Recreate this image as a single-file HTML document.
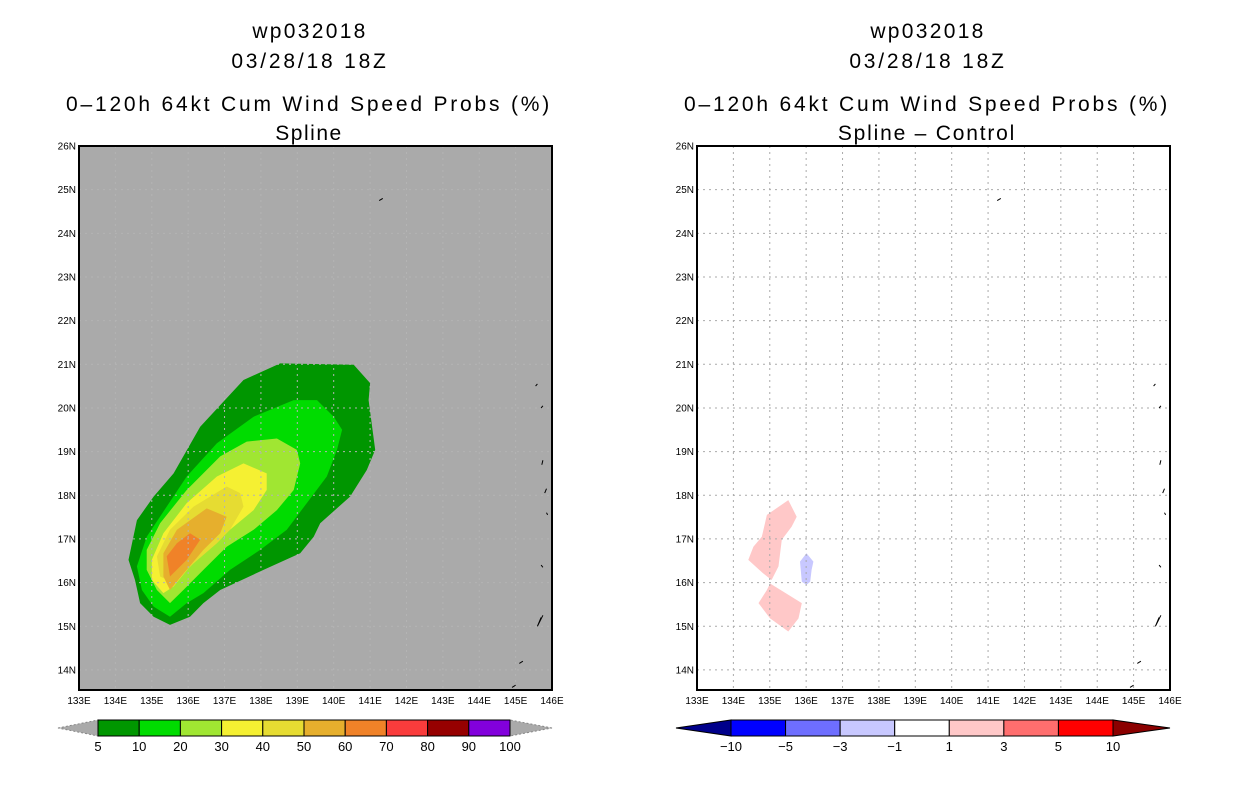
<!DOCTYPE html>
<html><head><meta charset="utf-8">
<style>
body{margin:0;background:#fff;width:1236px;height:800px;overflow:hidden}
svg{display:block}
text{font-family:"Liberation Sans",sans-serif}
.t{font-size:21px;letter-spacing:2.8px}
.tk{font-size:10px}
.cb{font-size:13px}
</style></head>
<body>
<svg id="s" width="1236" height="800" xmlns="http://www.w3.org/2000/svg">
<g text-anchor="middle">
<text class="t" x="310" y="38" style="letter-spacing:2.3px">wp032018</text>
<text class="t" x="310" y="68">03/28/18 18Z</text>
<text class="t" x="309" y="111">0–120h 64kt Cum Wind Speed Probs (%)</text>
<text class="t" x="309" y="140" style="letter-spacing:1.5px">Spline</text>
</g>
<g text-anchor="middle">
<text class="t" x="928" y="38" style="letter-spacing:2.3px">wp032018</text>
<text class="t" x="928" y="68">03/28/18 18Z</text>
<text class="t" x="927" y="111">0–120h 64kt Cum Wind Speed Probs (%)</text>
<text class="t" x="927" y="140" style="letter-spacing:1.8px">Spline – Control</text>
</g>
</svg>
<script>
const lonTicks=[133,134,135,136,137,138,139,140,141,142,143,144,145,146];
const latTicks=[14,15,16,17,18,19,20,21,22,23,24,25,26];
const probLevels=[5,10,20,30,40,50,60,70,80,90,100];
const probColors=["#009600","#00dc00","#a0e632","#f5f032","#e6dc32","#e6af2d","#f08228","#fa3c3c","#960000","#8200dc"];
const diffLabels=[-10,-5,-3,-1,1,3,5,10];
const diffColors=["#0000ff","#6e6eff","#c8c8ff","#ffffff","#ffc8c8","#ff6e6e","#ff0000"];
const c5=[[138.53,21.02],[140.55,20.99],[141.0,20.57],[140.96,20.18],[141.14,19.04],[140.91,18.58],[140.45,17.97],[139.63,17.36],[139.45,17.05],[139.08,16.67],[138.07,16.29],[136.88,15.83],[136.42,15.53],[136.05,15.22],[135.5,15.03],[135.05,15.22],[134.68,15.53],[134.54,16.06],[134.36,16.52],[134.59,17.43],[135.05,17.97],[135.6,18.5],[136.33,19.57],[137.52,20.64]];
const c10=[[138.9,20.18],[139.54,20.18],[140.0,19.8],[140.23,19.5],[140.09,19.04],[139.81,18.43],[139.26,17.82],[138.71,17.21],[137.98,16.75],[137.15,16.29],[136.42,15.76],[135.96,15.53],[135.5,15.22],[135.05,15.45],[134.73,15.83],[134.59,16.37],[134.86,17.05],[135.41,17.74],[135.96,18.43],[136.79,19.19],[137.8,19.8]];
const c20=[[138.44,19.3],[138.99,19.04],[139.08,18.73],[138.9,18.12],[138.44,17.66],[137.8,17.21],[137.06,16.82],[136.42,16.29],[135.87,15.83],[135.5,15.53],[135.14,15.83],[134.86,16.29],[134.86,16.75],[135.23,17.36],[135.96,18.12],[136.88,18.89],[137.61,19.23]];
const c30=[[137.52,18.73],[138.16,18.5],[138.16,18.12],[137.8,17.66],[137.15,17.21],[136.6,16.82],[136.05,16.37],[135.6,15.91],[135.32,15.76],[135.0,16.06],[135.0,16.52],[135.32,17.13],[135.96,17.82],[136.79,18.43]];
const c40=[[137.06,18.2],[137.43,18.05],[137.52,17.74],[137.15,17.21],[136.79,16.9],[136.15,16.44],[135.6,15.99],[135.23,16.14],[135.14,16.6],[135.5,17.21],[136.15,17.74]];
const c50=[[136.51,17.7],[137.06,17.51],[136.88,17.13],[136.42,16.75],[135.96,16.29],[135.5,15.83],[135.32,16.14],[135.32,16.67],[135.69,17.21]];
const c60=[[136.05,17.13],[136.33,16.98],[135.96,16.52],[135.5,16.14],[135.41,16.6],[135.69,16.9]];
const dPos1=[[135.51,17.89],[135.74,17.51],[135.6,17.28],[135.33,16.98],[135.24,16.37],[135.05,16.06],[134.82,16.21],[134.41,16.52],[134.55,16.82],[134.78,17.05],[134.92,17.55]];
const dPos2=[[135.01,15.98],[135.88,15.53],[135.79,15.18],[135.51,14.88],[135.01,15.18],[134.69,15.53],[134.92,15.83]];
const dNeg1=[[136.01,16.67],[136.2,16.48],[136.15,16.29],[136.11,16.02],[136.01,15.95],[135.88,16.02],[135.83,16.48]];
const islands=[[[141.35,24.8],[141.25,24.75]],[[145.6,20.55],[145.55,20.5]],[[145.75,20.05],[145.7,20.0]],[[145.75,18.8],[145.72,18.7]],[[145.85,18.15],[145.8,18.05]],[[145.85,17.6],[145.88,17.55]],[[145.75,16.35],[145.7,16.4]],[[145.7,15.2],[145.6,15.0],[145.75,15.25]],[[145.2,14.2],[145.1,14.15]],[[145.0,13.65],[144.9,13.6]]];

const NS="http://www.w3.org/2000/svg";
const svg=document.getElementById('s');
function mk(tag,attrs,parent){const e=document.createElementNS(NS,tag);for(const k in attrs)e.setAttribute(k,attrs[k]);(parent||svg).appendChild(e);return e;}
const LON0=133,LON1=146,LAT0=13.54,LAT1=26,TOP=146,BOT=690,W=473;
function xs(x0){return lon=>x0+(lon-LON0)/(LON1-LON0)*W;}
function ys(lat){return BOT-(lat-LAT0)/(LAT1-LAT0)*(BOT-TOP);}
function pts(poly,X){return poly.map(p=>X(p[0]).toFixed(1)+","+ys(p[1]).toFixed(1)).join(" ");}

function panel(x0,bg,name){
  const X=xs(x0);
  const g=mk('g',{});
  
  
  const r=mk('rect',{x:x0,y:TOP,width:W,height:BOT-TOP,fill:bg},g);
  
  
  return {g,X};
}
function grid(p,x0,color){
  const gg=mk('g',{stroke:color,'stroke-width':1,'stroke-dasharray':'2,4'},p.g);
  
  
  lonTicks.slice(1,-1).forEach(l=>mk('line',{x1:p.X(l),x2:p.X(l),y1:TOP,y2:BOT},gg));
  latTicks.slice(0,-1).forEach(l=>mk('line',{x1:x0,x2:x0+W,y1:ys(l),y2:ys(l)},gg));
}
function axes(p,x0){
  const gl=mk('g',{'text-anchor':'end'},p.g);
  
  
  latTicks.forEach(l=>{const t=mk('text',{x:x0-3,y:ys(l)+3.5,class:'tk'},gl);t.textContent=l+'N';});
  const gx=mk('g',{'text-anchor':'middle'},p.g);
  
  
  lonTicks.forEach(l=>{const t=mk('text',{x:p.X(l),y:704,class:'tk'},gx);t.textContent=l+'E';});
  const fr=mk('rect',{x:x0,y:TOP,width:W,height:BOT-TOP,fill:'none',stroke:'#000','stroke-width':2},p.g);
  
  
}
function isl(p){
  islands.forEach(s=>{const e=mk('polyline',{points:pts(s,p.X),fill:'none',stroke:'#000','stroke-width':1},p.g);
  
  });
}
const L=panel(79,'#aaaaaa','left-panel');
const cont=[c5,c10,c20,c30,c40,c50,c60];
cont.forEach((c,i)=>{const e=mk('polygon',{points:pts(c,L.X),fill:probColors[i]},L.g);
  
  });
grid(L,79,'#b4b4b4');
isl(L);axes(L,79);
const R=panel(697,'#ffffff','right-panel');
[[dPos1,diffColors[4]],[dPos2,diffColors[4]],[dNeg1,diffColors[2]]].forEach((d,i)=>{
  const e=mk('polygon',{points:pts(d[0],R.X),fill:d[1]},R.g);
  
  });
grid(R,697,'#aaaaaa');
isl(R);axes(R,697);
(function(){
  const g=mk('g',{});
  
  
  const x0=98,x1=510,y0=720,y1=736,n=probColors.length,w=(x1-x0)/n;
  mk('polygon',{points:`58,728 ${x0},${y0} ${x0},${y1}`,fill:'#aaaaaa',stroke:'#888','stroke-dasharray':'2,2'},g);
  mk('polygon',{points:`552,728 ${x1},${y0} ${x1},${y1}`,fill:'#aaaaaa',stroke:'#888','stroke-dasharray':'2,2'},g);
  probColors.forEach((c,i)=>mk('rect',{x:x0+i*w,y:y0,width:w,height:y1-y0,fill:c,stroke:'#000','stroke-width':1},g));
  probLevels.forEach((v,i)=>{const t=mk('text',{x:x0+i*w,y:751,'text-anchor':'middle',class:'cb'},g);t.textContent=v;});
})();
(function(){
  const g=mk('g',{});
  
  
  const x0=731,x1=1113,y0=720,y1=736,n=diffColors.length,w=(x1-x0)/n;
  mk('polygon',{points:`676,728 ${x0},${y0} ${x0},${y1}`,fill:'#00008b',stroke:'#000'},g);
  mk('polygon',{points:`1170,728 ${x1},${y0} ${x1},${y1}`,fill:'#8b0000',stroke:'#000'},g);
  diffColors.forEach((c,i)=>mk('rect',{x:x0+i*w,y:y0,width:w,height:y1-y0,fill:c,stroke:'#000','stroke-width':1},g));
  diffLabels.forEach((v,i)=>{const t=mk('text',{x:x0+i*w,y:751,'text-anchor':'middle',class:'cb'},g);t.textContent=v<0?'−'+(-v):v;});
})();
</script>
</body></html>
